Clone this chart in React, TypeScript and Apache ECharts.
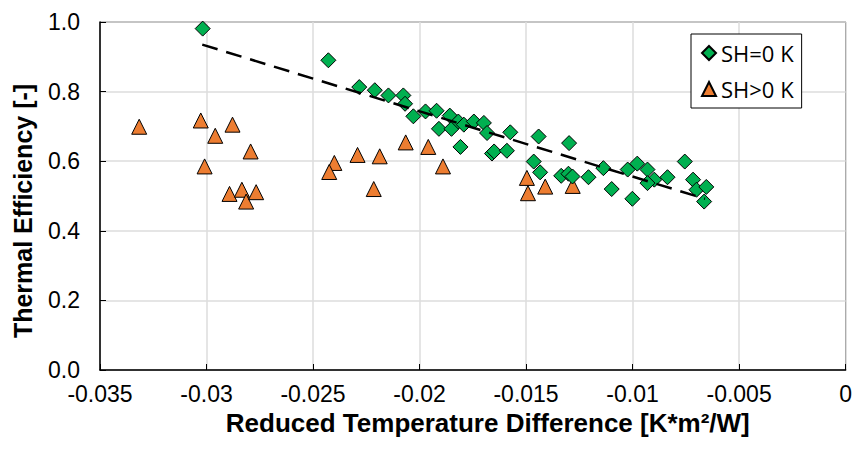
import React, { useEffect, useRef } from "react";
import * as echarts from "echarts";

const shZeroX = [
  -0.03018, -0.02428, -0.02283, -0.0221, -0.02146, -0.02076, -0.02068, -0.02029, -0.01972, -0.0192,
  -0.01858, -0.01909, -0.0185, -0.01818, -0.01792, -0.01745, -0.01698, -0.01683, -0.01808, -0.0166,
  -0.0165, -0.0159, -0.01574, -0.01441, -0.01464, -0.01434, -0.01298, -0.01335, -0.01301, -0.01282,
  -0.01207, -0.01137, -0.01098, -0.01023, -0.00978, -0.01001, -0.0093, -0.00898, -0.0093, -0.00836,
  -0.00755, -0.00716, -0.007, -0.00654, -0.00664,
];
const shZeroY = [
  0.981, 0.89, 0.813, 0.804, 0.789, 0.789, 0.765, 0.729, 0.743, 0.745,
  0.731, 0.693, 0.693, 0.714, 0.705, 0.714, 0.71, 0.681, 0.641, 0.622,
  0.628, 0.63, 0.683, 0.671, 0.599, 0.568, 0.652, 0.558, 0.564, 0.556,
  0.554, 0.58, 0.52, 0.576, 0.593, 0.492, 0.576, 0.547, 0.537, 0.554,
  0.599, 0.547, 0.518, 0.526, 0.484,
];

const shPosX = [
  -0.03316, -0.03027, -0.03009, -0.02959, -0.02878, -0.02892, -0.02834, -0.02793, -0.02814, -0.02767,
  -0.024, -0.02424, -0.02291, -0.02215, -0.02187, -0.02065, -0.01959, -0.0189, -0.01496, -0.01491,
  -0.0141, -0.01281,
];
const shPosY = [
  0.699, 0.717, 0.585, 0.673, 0.705, 0.506, 0.518, 0.628, 0.484, 0.511,
  0.595, 0.569, 0.618, 0.52, 0.614, 0.654, 0.641, 0.585, 0.552, 0.508,
  0.527, 0.529,
];

const trendX = [-0.0302, -0.0066];
const trendY = [0.935, 0.492];

const seriesNames = ["SH=0 K", "SH>0 K"];
const xName = "Reduced Temperature Difference [K*m²/W]";
const yName = "Thermal Efficiency [-]";

export default function App() {
  const ref = useRef<HTMLDivElement>(null);
  useEffect(() => {
    if (!ref.current) return;
    const chart = echarts.init(ref.current, null, { renderer: "svg" });
    const zip = (xs: number[], ys: number[]) => xs.map((x, i) => [x, ys[i]]);
    chart.setOption({
      animation: false,
      backgroundColor: "#fff",
      grid: {
        left: 100,
        right: 7,
        top: 22,
        bottom: 79,
        show: true,
        borderColor: "#000",
        borderWidth: 1,
      },
      legend: {
        orient: "vertical",
        left: 691,
        top: 34,
        data: [
          { name: seriesNames[0], icon: "diamond" },
          { name: seriesNames[1], icon: "triangle" },
        ],
        backgroundColor: "#fff",
        borderColor: "#000",
        borderWidth: 1,
        borderRadius: 0,
        padding: [8, 8, 8, 10],
        itemWidth: 14,
        itemHeight: 14,
        itemGap: 14,
        textStyle: {
          fontFamily: "Open Sans",
          fontSize: 22,
          color: "#000",
          lineHeight: 22,
        },
      },
      xAxis: {
        type: "value",
        min: -0.035,
        max: 0,
        interval: 0.005,
        name: xName,
        nameLocation: "middle",
        nameGap: 28,
        nameTextStyle: {
          fontFamily: "Liberation Sans",
          fontWeight: "bold",
          fontSize: 26,
          color: "#000",
          padding: [0, 0, 0, 30],
        },
        axisLine: { onZero: false, lineStyle: { color: "#000", width: 1.5 } },
        axisTick: { show: true, inside: true, length: 6, lineStyle: { color: "#000" } },
        axisLabel: {
          margin: 12,
          fontFamily: "Liberation Sans",
          fontSize: 23,
          color: "#000",
          formatter: (v: number) => (Math.abs(v) < 1e-9 ? "0" : String(parseFloat(v.toFixed(3)))),
        },
        splitLine: { show: true, lineStyle: { color: "#dcdcdc", width: 1.5 } },
      },
      yAxis: {
        type: "value",
        min: 0,
        max: 1,
        interval: 0.2,
        name: yName,
        nameLocation: "middle",
        nameGap: 65,
        nameTextStyle: {
          fontFamily: "Liberation Sans",
          fontWeight: "bold",
          fontSize: 25,
          color: "#000",
          padding: [0, 30, 0, 0],
        },
        axisLine: { show: true, onZero: false, lineStyle: { color: "#000", width: 1.5 } },
        axisTick: { show: true, inside: true, length: 6, lineStyle: { color: "#000" } },
        axisLabel: {
          margin: 20,
          fontFamily: "Liberation Sans",
          fontSize: 23,
          color: "#000",
          formatter: (v: number) => v.toFixed(1),
        },
        splitLine: { show: true, lineStyle: { color: "#dcdcdc", width: 1.5 } },
      },
      series: [
        {
          name: seriesNames[1],
          type: "scatter",
          symbol: "triangle",
          symbolSize: 15,
          itemStyle: { color: "#ED7D31", borderColor: "#000", borderWidth: 1, opacity: 1 },
          data: zip(shPosX, shPosY),
          z: 2,
        },
        {
          name: seriesNames[0],
          type: "scatter",
          symbol: "diamond",
          symbolSize: 15,
          itemStyle: { color: "#00B050", borderColor: "#000", borderWidth: 1, opacity: 1 },
          data: zip(shZeroX, shZeroY),
          z: 3,
        },
        {
          name: "trend",
          type: "line",
          symbol: "none",
          silent: true,
          lineStyle: { color: "#000", width: 2.5, type: [16, 9] },
          data: zip(trendX, trendY),
          z: 4,
        },
      ],
    });
    return () => chart.dispose();
  }, []);
  return (
    <div
      ref={ref}
      style={{ position: "fixed", left: 0, top: 0, width: 855, height: 449 }}
    />
  );
}
